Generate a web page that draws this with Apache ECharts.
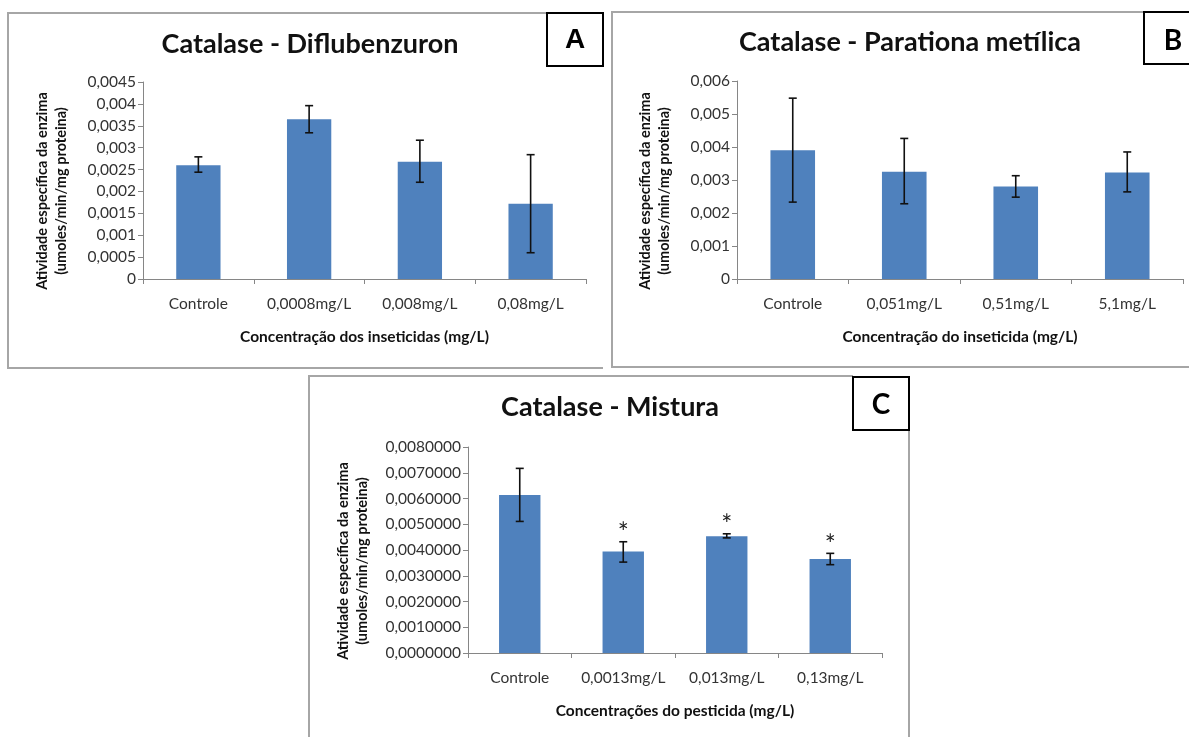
<!DOCTYPE html>
<html>
<head>
<meta charset="utf-8">
<script src="https://cdn.jsdelivr.net/npm/echarts@6/dist/echarts.min.js"></script>
<style>
  html, body { margin: 0; padding: 0; background: #fff; }
  #chart { width: 1189px; height: 737px; }
</style>
</head>
<body>
<div id="chart"></div>
<script>
// painel A - Diflubenzuron
const catsA = ['Controle', '0,0008mg/L', '0,008mg/L', '0,08mg/L'];
const meanA = [0.0026, 0.00365, 0.00268, 0.00172];
const lowA = [0.00244, 0.00334, 0.00221, 0.0006];
const highA = [0.00279, 0.00396, 0.00317, 0.00284];
const ticksA = ['0', '0,0005', '0,001', '0,0015', '0,002', '0,0025', '0,003', '0,0035', '0,004', '0,0045'];

// painel B - Parationa metilica
const catsB = ['Controle', '0,051mg/L', '0,51mg/L', '5,1mg/L'];
const meanB = [0.0039, 0.00325, 0.0028, 0.00323];
const lowB = [0.00233, 0.00228, 0.00248, 0.00264];
const highB = [0.00548, 0.00426, 0.00313, 0.00385];
const ticksB = ['0', '0,001', '0,002', '0,003', '0,004', '0,005', '0,006'];

// painel C - Mistura
const catsC = ['Controle', '0,0013mg/L', '0,013mg/L', '0,13mg/L'];
const meanC = [0.00614, 0.00394, 0.00453, 0.00365];
const lowC = [0.00511, 0.00353, 0.00447, 0.00343];
const highC = [0.00717, 0.00432, 0.00463, 0.00387];
const starsC = ['', '*', '*', '*'];
const ticksC = ['0,0000000', '0,0010000', '0,0020000', '0,0030000', '0,0040000',
  '0,0050000', '0,0060000', '0,0070000', '0,0080000'];

const FONT = 'Lato, "Open Sans", sans-serif';
const BAR = '#4f81bd';
const AXIS = '#868686';
const BORDER = '#a6a6a6';

const chart = echarts.init(document.getElementById('chart'));

function xAxisOf(idx, cats, name) {
  return {
    type: 'category', gridIndex: idx, data: cats,
    axisLine: { lineStyle: { color: AXIS } },
    axisTick: { show: true, length: 5, lineStyle: { color: AXIS } },
    axisLabel: { color: '#333', fontFamily: FONT, fontSize: 15.5, margin: 17, interval: 0 },
    name: name, nameLocation: 'middle', nameGap: 50,
    nameTextStyle: { color: '#111', fontFamily: FONT, fontSize: 15.5, fontWeight: 'bold' }
  };
}

function yAxisOf(idx, max, step, ticks) {
  return {
    type: 'value', gridIndex: idx, min: 0, max: max, interval: step,
    axisLine: { show: true, lineStyle: { color: AXIS } },
    axisTick: { show: true, length: 5, lineStyle: { color: AXIS } },
    splitLine: { show: false },
    axisLabel: {
      color: '#333', fontFamily: FONT, fontSize: 15.5, margin: 7,
      formatter: v => ticks[Math.round(v / step)]
    }
  };
}

function barOf(idx, data) {
  return {
    type: 'bar', xAxisIndex: idx, yAxisIndex: idx, data: data,
    barWidth: '40%', itemStyle: { color: BAR }, silent: true
  };
}

function errOf(idx, low, high, stars) {
  return {
    type: 'custom', xAxisIndex: idx, yAxisIndex: idx, silent: true, z: 5,
    data: low.map((l, i) => [i, l, high[i]]),
    renderItem: function (params, api) {
      const i = api.value(0);
      const top = api.coord([i, api.value(2)]);
      const bot = api.coord([i, api.value(1)]);
      const x = top[0], cap = 4;
      const kids = [
        { type: 'line', shape: { x1: x, y1: top[1], x2: x, y2: bot[1] }, style: { stroke: '#111', lineWidth: 1.6 } },
        { type: 'line', shape: { x1: x - cap, y1: top[1], x2: x + cap, y2: top[1] }, style: { stroke: '#111', lineWidth: 1.6 } },
        { type: 'line', shape: { x1: x - cap, y1: bot[1], x2: x + cap, y2: bot[1] }, style: { stroke: '#111', lineWidth: 1.6 } }
      ];
      if (stars && stars[i]) {
        kids.push({
          type: 'text', x: x, y: top[1] - 8,
          style: { text: stars[i], fill: '#222', font: '26px ' + FONT, align: 'center', verticalAlign: 'middle' }
        });
      }
      return { type: 'group', children: kids };
    }
  };
}

function yTitle(x, y) {
  const st = { fill: '#111', font: 'bold 14.5px ' + FONT, align: 'center', verticalAlign: 'middle' };
  return [
    { type: 'text', x: x, y: y, rotation: Math.PI / 2, style: Object.assign({ text: 'Atividade específica da enzima' }, st) },
    { type: 'text', x: x + 19, y: y, rotation: Math.PI / 2, style: Object.assign({ text: '(umoles/min/mg proteina)' }, st) }
  ];
}

function labelBox(x, y, w, h, txt, cx, cy, font) {
  return [
    { type: 'rect', shape: { x: x, y: y, width: w, height: h }, style: { fill: '#fff', stroke: '#000', lineWidth: 2 }, z: 10 },
    { type: 'text', x: cx, y: cy, z: 11, style: { text: txt, fill: '#000', font: font, align: 'center', verticalAlign: 'middle' } }
  ];
}

const titleStyle = { color: '#111', fontFamily: FONT, fontSize: 27, fontWeight: 'bold' };

const option = {
  animation: false,
  backgroundColor: '#fff',
  title: [
    { text: 'Catalase - Diflubenzuron', left: 305, top: 26, textAlign: 'center', textStyle: titleStyle },
    { text: 'Catalase - Parationa metílica', left: 905, top: 24, textAlign: 'center', textStyle: titleStyle },
    { text: 'Catalase - Mistura', left: 605, top: 389, textAlign: 'center', textStyle: titleStyle }
  ],
  grid: [
    { left: 143, top: 82, width: 443, height: 197 },
    { left: 737, top: 81, width: 446, height: 198 },
    { left: 468, top: 447, width: 414, height: 206 }
  ],
  xAxis: [
    xAxisOf(0, catsA, 'Concentração dos inseticidas (mg/L)'),
    xAxisOf(1, catsB, 'Concentração do inseticida (mg/L)'),
    xAxisOf(2, catsC, 'Concentrações do pesticida (mg/L)')
  ],
  yAxis: [
    yAxisOf(0, 0.0045, 0.0005, ticksA),
    yAxisOf(1, 0.006, 0.001, ticksB),
    yAxisOf(2, 0.008, 0.001, ticksC)
  ],
  series: [
    barOf(0, meanA), errOf(0, lowA, highA),
    barOf(1, meanB), errOf(1, lowB, highB),
    barOf(2, meanC), errOf(2, lowC, highC, starsC)
  ],
  graphic: [
    // molduras dos paineis
    { type: 'polyline', shape: { points: [[603, 368], [8, 368], [8, 13], [547, 13]] }, style: { stroke: BORDER, lineWidth: 2, fill: null } },
    { type: 'polyline', shape: { points: [[1189, 367], [612, 367], [612, 12], [1144, 12]] }, style: { stroke: BORDER, lineWidth: 2, fill: null } },
    { type: 'polyline', shape: { points: [[309, 737], [309, 376], [853, 376]] }, style: { stroke: BORDER, lineWidth: 2, fill: null } },
    { type: 'line', shape: { x1: 909, y1: 430, x2: 909, y2: 737 }, style: { stroke: BORDER, lineWidth: 2 } },
    ...labelBox(547, 13, 56, 53, 'A', 575, 40, 'bold 28px "Liberation Sans", Arial, sans-serif'),
    ...labelBox(1144, 12, 60, 52, 'B', 1173, 41, 'bold 28px ' + FONT),
    ...labelBox(853, 377, 56, 53, 'C', 881, 405, 'bold 28px ' + FONT),
    ...yTitle(42, 191),
    ...yTitle(645, 191),
    ...yTitle(343, 561)
  ]
};

chart.setOption(option);
</script>
</body>
</html>
